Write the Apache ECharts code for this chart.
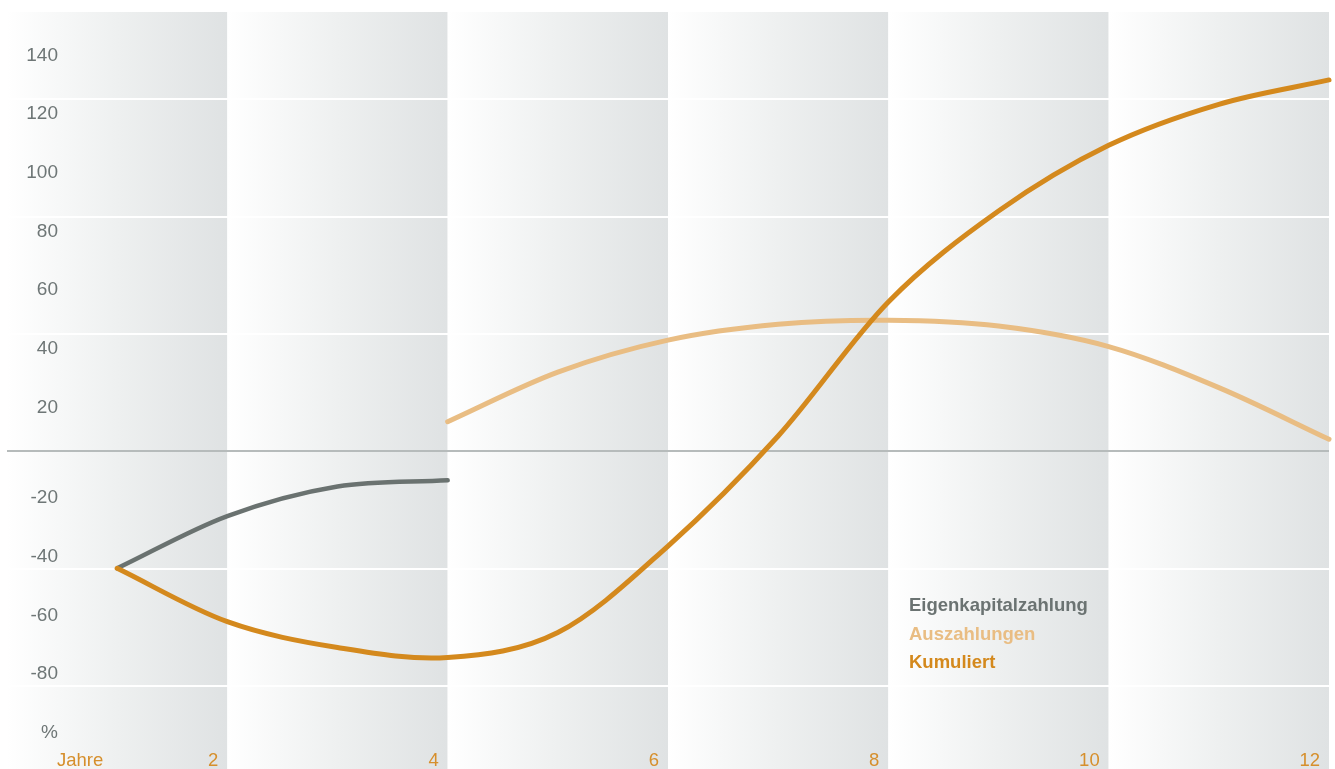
<!DOCTYPE html>
<html>
<head>
<meta charset="utf-8">
<script src="https://cdn.jsdelivr.net/npm/echarts@6/dist/echarts.min.js"></script>
<style>
html,body{margin:0;padding:0;background:#fff;}
#chart{width:1335px;height:769px;}
</style>
</head>
<body>
<div id="chart"></div>
<script>
// Data (yearly values)
const eigenYears = [1, 2, 3, 4];
const eigenValues = [-40, -22.2, -12.1, -10.0];

const auszYears = [4, 5, 6, 7, 8, 9, 10, 11, 12];
const auszValues = [10.0, 26.9, 37.8, 43.2, 44.6, 42.6, 35.6, 21.6, 4.0];

const kumYears = [1, 2, 3, 4, 5, 6, 7, 8, 9, 10, 11, 12];
const kumValues = [-40, -58.2, -67.0, -70.4, -61.9, -32.4, 5.1, 50.8, 81.8, 104.2, 118.2, 126.5];

const seriesNames = ['Eigenkapitalzahlung', 'Auszahlungen', 'Kumuliert'];
const bandStarts = [0, 2, 4, 6, 8, 10];
const bandWidth = 2;
const gridValues = [-120, 150]; // y extent
const xTickLabels = { 1: 'Jahre', 2: '2', 4: '4', 6: '6', 8: '8', 10: '10', 12: '12' };
const yTickLabels = { 140: '140', 120: '120', 100: '100', 80: '80', 60: '60', 40: '40', 20: '20', '-20': '-20', '-40': '-40', '-60': '-60', '-80': '-80', '-100': '%' };

const colors = { eigen: '#6a7270', ausz: '#e9bd83', kum: '#d4891d' };

function pairs(xs, ys) { return xs.map((x, i) => [x, ys[i]]); }

// Smooth (Catmull-Rom) path through the data points, positioned by the chart's own scales
function smoothRenderer(xs, ys, color, width) {
  return function (params, api) {
    if (params.dataIndex !== 0) return null;
    const P = xs.map((x, i) => api.coord([x, ys[i]]));
    const n = P.length;
    const tan = P.map((p, i) => {
      if (i === 0) return [P[1][0] - P[0][0], P[1][1] - P[0][1]];
      if (i === n - 1) return [P[n - 1][0] - P[n - 2][0], P[n - 1][1] - P[n - 2][1]];
      return [(P[i + 1][0] - P[i - 1][0]) / 2, (P[i + 1][1] - P[i - 1][1]) / 2];
    });
    let d = 'M' + P[0][0] + ' ' + P[0][1];
    for (let i = 0; i < n - 1; i++) {
      const c1 = [P[i][0] + tan[i][0] / 3, P[i][1] + tan[i][1] / 3];
      const c2 = [P[i + 1][0] - tan[i + 1][0] / 3, P[i + 1][1] - tan[i + 1][1] / 3];
      d += ' C' + c1[0] + ' ' + c1[1] + ' ' + c2[0] + ' ' + c2[1] + ' ' + P[i + 1][0] + ' ' + P[i + 1][1];
    }
    return {
      type: 'path',
      shape: { pathData: d },
      style: { fill: null, stroke: color, lineWidth: width, lineCap: 'round', lineJoin: 'round' },
      silent: true
    };
  };
}

const chart = echarts.init(document.getElementById('chart'), null, { renderer: 'canvas' });

const bandGradient = () => new echarts.graphic.LinearGradient(0, 0, 1, 0, [
  { offset: 0, color: '#ffffff' },
  { offset: 0.5, color: '#eef0f0' },
  { offset: 1, color: '#dfe2e3' }
]);

const option = {
  backgroundColor: '#ffffff',
  animation: false,
  grid: { left: 7, top: 11, width: 1322, height: 792, outerBoundsMode: 'none', containLabel: false },
  xAxis: {
    type: 'value', min: 0, max: 12, interval: 1, z: 6,
    axisLine: { show: false }, axisTick: { show: false }, splitLine: { show: false },
    axisLabel: {
      inside: true, margin: 42, align: 'right', verticalAlign: 'middle',
      showMinLabel: true, showMaxLabel: true,
      formatter: v => {
        const t = xTickLabels[v];
        if (!t) return '';
        return v === 1 ? '{j|' + t + '}' : '{d|' + t + '}';
      },
      rich: {
        d: { fontSize: 18.5, fontFamily: 'Liberation Sans', color: '#d68f2c', padding: [0, 9, 0, 0] },
        j: { fontSize: 18.5, fontFamily: 'Liberation Sans', color: '#d68f2c', padding: [0, 14, 0, 0] }
      }
    }
  },
  yAxis: [
    {
      type: 'value', min: gridValues[0], max: gridValues[1], interval: 20, z: 6,
      axisLine: { show: false }, axisTick: { show: false }, splitLine: { show: false },
      axisLabel: {
        inside: true, margin: 51, align: 'right', verticalAlign: 'middle',
        formatter: v => {
          const t = yTickLabels[String(v)];
          if (!t) return '';
          return v > 0 ? '{p|' + t + '}' : '{n|' + t + '}';
        },
        rich: {
          p: { fontSize: 19, fontFamily: 'Liberation Sans', color: '#6e7676', padding: [30, 0, 0, 0] },
          n: { fontSize: 19, fontFamily: 'Liberation Sans', color: '#6e7676', padding: [0, 0, 23, 0] }
        }
      }
    },
    {
      type: 'value', min: gridValues[0], max: gridValues[1], interval: 40, z: 3,
      axisLine: { show: false }, axisTick: { show: false }, axisLabel: { show: false },
      splitLine: { show: true, lineStyle: { color: '#ffffff', width: 2 } }
    }
  ],
  legend: {
    orient: 'vertical', left: 899, top: 591, itemWidth: 0, itemHeight: 0, itemGap: 8.5,
    selectedMode: false, icon: 'rect', itemStyle: { opacity: 0 },
    textStyle: { fontSize: 18.5, fontWeight: 'bold', fontFamily: 'Liberation Sans', lineHeight: 20 },
    data: [
      { name: seriesNames[0], textStyle: { color: '#6b7372' } },
      { name: seriesNames[1], textStyle: { color: '#e9bd83' } },
      { name: seriesNames[2], textStyle: { color: '#d4891d' } }
    ]
  },
  series: [
    {
      name: 'bands', type: 'line', data: [], z: 1, silent: true,
      markArea: {
        silent: true,
        data: bandStarts.map(s => [
          { xAxis: s, itemStyle: { color: bandGradient() } },
          { xAxis: s + bandWidth }
        ])
      },
      markLine: {
        silent: true, symbol: 'none', label: { show: false }, z: 4,
        lineStyle: { color: '#9ea4a4', width: 1.5, type: 'solid' },
        data: [{ yAxis: 0 }]
      }
    },
    {
      name: seriesNames[0], type: 'custom', z: 5, clip: false,
      data: pairs(eigenYears, eigenValues),
      itemStyle: { color: colors.eigen },
      renderItem: smoothRenderer(eigenYears, eigenValues, colors.eigen, 4.5)
    },
    {
      name: seriesNames[1], type: 'custom', z: 5, clip: false,
      data: pairs(auszYears, auszValues),
      itemStyle: { color: colors.ausz },
      renderItem: smoothRenderer(auszYears, auszValues, colors.ausz, 5)
    },
    {
      name: seriesNames[2], type: 'custom', z: 5, clip: false,
      data: pairs(kumYears, kumValues),
      itemStyle: { color: colors.kum },
      renderItem: smoothRenderer(kumYears, kumValues, colors.kum, 5)
    }
  ]
};

chart.setOption(option);
</script>
</body>
</html>
